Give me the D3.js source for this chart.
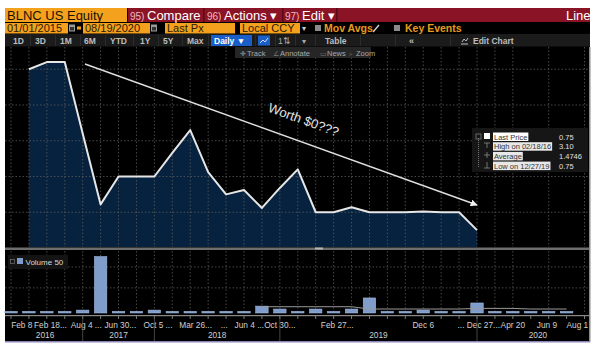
<!DOCTYPE html>
<html><head><meta charset="utf-8">
<script src="https://cdn.jsdelivr.net/npm/d3@7"></script>
<style>
body{margin:0;background:#fff;}
svg{display:block;font-family:"Liberation Sans",Arial,sans-serif;}
</style>
</head><body>
<svg id="c" width="596" height="345"></svg>
<script>
// ---------- DATA ----------
const priceSlots = d3.range(1, 27);
const prices = [3.00,3.10,3.10,2.10,1.11,1.50,1.50,1.50,1.83,2.15,1.56,1.25,1.31,1.06,1.34,1.60,1.00,1.00,1.07,1.00,1.00,1.00,1.01,1.00,1.00,0.75];
const volSlots = d3.range(0, 32);
const volumes = [8,8,8,8,14,270,8,8,14,8,8,8,8,8,33,19,8,19,8,19,72,8,8,14,8,8,48,8,8,8,8,8];
const maSlots = d3.range(14, 32);
const volMA = [30,30,30,30,30,30,19,19,19,19,19,19,22,22,22,19,19,19];
const priceGrid = [1.0,1.5,2.0,2.5,3.0];
const volGrid = [120,220];
const xTickLabels = ["Feb 8","Feb 18...","Aug 4 ...","Jun 30...","Oct 5 ...","Mar 26...","...","Jun 4 ...","Oct 30...","Feb 27...","Dec 6","... Dec 27...","Apr 20","Jun 9","Aug 1"];
const xTickSlots = [0.6,2.2,4.2,6.1,8.2,10.3,11.9,13.3,15.0,18.2,23.0,26.1,28.0,29.9,31.6];
const yearLabels = ["2016","2017","2018","2019","2020"];
const yearSlots = [1.9,6.0,11.5,20.5,29.4];
const yearBreaks = [4,8,15,26];
const gridSlots = d3.range(0,33).filter(s => s!==29 && s!==31);
const legendLabels = ["Last Price","High on 02/18/16","Average","Low on 12/27/19"];
const legendValues = ["0.75","3.10","1.4746","0.75"];
const ranges = ["1D","3D","1M","6M","YTD","1Y","5Y","Max"];

// ---------- SCALES ----------
const svg = d3.select("#c");
const x = d3.scaleLinear().domain([0,26]).range([11,477]);
const y = d3.scaleLinear().domain([0.5,3.311]).range([248,47]);
const yv = d3.scaleLinear().domain([0,270]).range([313,256.5]);

// ---------- BACKGROUND ----------
svg.append("rect").attr("x",5).attr("y",8).attr("width",585).attr("height",334).attr("fill","#000");

// Row 1
svg.append("rect").attr("x",5).attr("y",8).attr("width",122).attr("height",14).attr("fill","#f4a11e");
svg.append("text").attr("x",7).attr("y",20).attr("font-size",13).attr("fill","#1a1200").text("BLNC US Equity");
svg.append("rect").attr("x",128).attr("y",8).attr("width",462).attr("height",14).attr("fill","#8a1426");
[203,282,336].forEach(sx => svg.append("rect").attr("x",sx).attr("y",8).attr("width",1.5).attr("height",14).attr("fill","#5a0a16"));
const r1 = [{n:"95)",t:"Compare",x:130},{n:"96)",t:"Actions \u25BE",x:207},{n:"97)",t:"Edit \u25BE",x:285}];
r1.forEach(d=>{
  svg.append("text").attr("x",d.x).attr("y",19.5).attr("font-size",10).attr("fill","#f2b8be").text(d.n);
  svg.append("text").attr("x",d.x+17).attr("y",20).attr("font-size",13).attr("fill","#fff").text(d.t);
});
svg.append("text").attr("x",566).attr("y",20).attr("font-size",13).attr("fill","#fff").text("Line");

// Row 2
const boxes2 = [{x:5,w:63,t:"01/01/2015"},{x:83,w:67,t:"08/19/2020"},{x:165,w:70,t:"Last Px"},{x:240,w:60,t:"Local CCY"}];
boxes2.forEach(b=>{
  svg.append("rect").attr("x",b.x).attr("y",23).attr("width",b.w).attr("height",10.5).attr("fill","#f4a11e");
  svg.append("text").attr("x",b.x+2).attr("y",32.3).attr("font-size",11).attr("fill","#2a1a00").text(b.t);
});
[69,151].forEach(ix=>{
  svg.append("rect").attr("x",ix).attr("y",24.5).attr("width",6).attr("height",7).attr("fill","#9a9a9a");
  svg.append("rect").attr("x",ix+1).attr("y",27).attr("width",4).attr("height",3.5).attr("fill","#333");
});
svg.append("rect").attr("x",77).attr("y",26.5).attr("width",4).attr("height",3).attr("fill","#f4a11e");
svg.append("text").attr("x",302).attr("y",31).attr("font-size",8).attr("fill","#ccc").text("\u25BE");
[315,394].forEach(cx=>svg.append("rect").attr("x",cx).attr("y",25).attr("width",6).attr("height",6).attr("fill","#8a8a8a"));
svg.append("text").attr("x",324).attr("y",32).attr("font-size",10.5).attr("font-weight","bold").attr("fill","#e89a1c").text("Mov Avgs");
svg.append("line").attr("x1",373).attr("y1",32).attr("x2",379).attr("y2",25).attr("stroke","#ccc").attr("stroke-width",1.5);
svg.append("text").attr("x",405).attr("y",32).attr("font-size",10.5).attr("font-weight","bold").attr("fill","#e89a1c").text("Key Events");

// Row 3
svg.append("rect").attr("x",5).attr("y",34).attr("width",585).attr("height",12.5).attr("fill","#1b1b1b");
const rangeX = [13,35,60,84,110,140,163,187];
ranges.forEach((t,i)=>svg.append("text").attr("x",rangeX[i]).attr("y",44).attr("font-size",8.5).attr("font-weight","bold").attr("fill","#bcbcbc").text(t));
svg.append("rect").attr("x",211).attr("y",35).attr("width",41).attr("height",11).attr("fill","#1a5fc8");
svg.append("text").attr("x",214).attr("y",44).attr("font-size",8.5).attr("font-weight","bold").attr("fill","#fff").text("Daily \u25BC");
svg.append("rect").attr("x",258).attr("y",35.5).attr("width",12).attr("height",10).attr("fill","#1a5fc8");
svg.append("path").attr("d","M260,43 L263,40 L265,42 L268,38").attr("stroke","#cfe0ff").attr("fill","none");
svg.append("text").attr("x",278).attr("y",44).attr("font-size",8.5).attr("fill","#aaa").text("1\u21C5");
svg.append("text").attr("x",302).attr("y",44).attr("font-size",8).attr("fill","#aaa").text("\u25BE");
svg.append("text").attr("x",325).attr("y",44).attr("font-size",8.5).attr("font-weight","bold").attr("fill","#bcbcbc").text("Table");
svg.append("text").attr("x",409).attr("y",44).attr("font-size",9).attr("font-weight","bold").attr("fill","#bcbcbc").text("\u00AB");
svg.append("path").attr("d","M461,44 L468,44 M462,42 L464,39 L466,41 L468,38").attr("stroke","#bcbcbc").attr("fill","none");
svg.append("text").attr("x",473).attr("y",44).attr("font-size",8.5).attr("font-weight","bold").attr("fill","#bcbcbc").text("Edit Chart");
[30,55,80,105,133,158,182,208,255,275,295,315,360,395,450].forEach(sx=>svg.append("rect").attr("x",sx).attr("y",35).attr("width",1).attr("height",11).attr("fill","#2c2c2c"));

// ---------- PRICE AREA ----------
const pdata = priceSlots.map((s,i)=>({s, p:prices[i]}));
svg.append("path").datum(pdata)
  .attr("d", d3.area().x(d=>x(d.s)).y0(247).y1(d=>y(d.p)))
  .attr("fill","#06223f");

// gridlines (main panel)
const grid = svg.append("g").attr("stroke","#5a5a5a").attr("stroke-width",0.8).attr("stroke-dasharray","1.5,2");
priceGrid.forEach(v=>grid.append("line").attr("x1",5).attr("x2",590).attr("y1",y(v)).attr("y2",y(v)));
gridSlots.forEach(s=>grid.append("line").attr("x1",x(s)).attr("x2",x(s)).attr("y1",47).attr("y2",247));
// volume panel gridlines
volGrid.forEach(v=>grid.append("line").attr("x1",5).attr("x2",590).attr("y1",yv(v)).attr("y2",yv(v)));
gridSlots.forEach(s=>grid.append("line").attr("x1",x(s)).attr("x2",x(s)).attr("y1",251).attr("y2",314));

svg.append("path").datum(pdata)
  .attr("d", d3.line().x(d=>x(d.s)).y(d=>y(d.p)))
  .attr("fill","none").attr("stroke","#e6e6e6").attr("stroke-width",2).attr("stroke-linejoin","round");

// separator between panels
svg.append("rect").attr("x",5).attr("y",247.5).attr("width",585).attr("height",2.5).attr("fill","#6e6e6e");
svg.append("rect").attr("x",315).attr("y",247.5).attr("width",8).attr("height",2).attr("fill","#b5b5b5");
// right border
svg.append("rect").attr("x",589).attr("y",47).attr("width",1.5).attr("height",295).attr("fill","#8a8a8a");

// ---------- TRACK TOOLBAR ----------
svg.append("rect").attr("x",235).attr("y",47).attr("width",136).attr("height",11).attr("fill","#262626");
const tb = [{i:"\u271A",t:"Track",x:240},{i:"\u2220",t:"Annotate",x:273},{i:"\u25AD",t:"News",x:320},{i:"\u2315",t:"Zoom",x:349}];
tb.forEach(d=>{
  svg.append("text").attr("x",d.x).attr("y",55.5).attr("font-size",7).attr("fill","#777").text(d.i);
  svg.append("text").attr("x",d.x+7).attr("y",55.5).attr("font-size",7.5).attr("fill","#a8a8a8").text(d.t);
});

// ---------- ANNOTATION ----------
svg.append("defs").append("marker").attr("id","ah").attr("viewBox","0 0 10 10").attr("refX",9).attr("refY",5)
  .attr("markerWidth",5).attr("markerHeight",5).attr("orient","auto")
  .append("path").attr("d","M0,0 L10,5 L0,10 z").attr("fill","#f0f0f0");
svg.append("line").attr("x1",85).attr("y1",64).attr("x2",477).attr("y2",205)
  .attr("stroke","#e0e0e0").attr("stroke-width",1.4).attr("marker-end","url(#ah)");
svg.append("text").attr("transform","translate(302,124) rotate(20)").attr("text-anchor","middle")
  .attr("font-size",13).attr("fill","#e4e4e4").text("Worth $0???");

// ---------- LEGEND ----------
const lg = svg.append("g");
lg.append("rect").attr("x",472).attr("y",128).attr("width",116).attr("height",44).attr("fill","#161616");
lg.append("line").attr("x1",478.5).attr("x2",478.5).attr("y1",138).attr("y2",168).attr("stroke","#777").attr("stroke-dasharray","1,1");
lg.append("rect").attr("x",476).attr("y",134).attr("width",5).attr("height",5).attr("fill","none").attr("stroke","#888").attr("stroke-width",0.7);
lg.append("rect").attr("x",484).attr("y",133).attr("width",6).attr("height",6).attr("fill","#fff");
legendLabels.forEach((t,i)=>{
  const yy = 139.5 + i*9.7;
  const tx = lg.append("text").attr("x",494).attr("y",yy).attr("font-size",7.5).attr("fill","#333").text(t);
  const w = tx.node().getComputedTextLength();
  lg.insert("rect", "text").attr("x",493).attr("y",yy-7).attr("width",w+2).attr("height",8.5).attr("fill",i===0?"#ffffff":"#e8e8e8");
  lg.append("text").attr("x",559).attr("y",yy).attr("font-size",7.5).attr("fill","#e0e0e0").text(legendValues[i]);
});
lg.append("path").attr("d","M484,143 L490,143 M487,143 L487,148").attr("stroke","#888").attr("stroke-width",0.8);
lg.append("path").attr("d","M484,155 L490,155 M487,152 L487,158").attr("stroke","#888").attr("stroke-width",0.8);
lg.append("path").attr("d","M484,168 L490,168 M487,162 L487,168").attr("stroke","#888").attr("stroke-width",0.8);

// ---------- VOLUME ----------
const bw = 12.5;
svg.append("g").selectAll("rect").data(volSlots.map((s,i)=>({s,v:volumes[i]}))).join("rect")
  .attr("x",d=>x(d.s)-bw/2).attr("width",bw)
  .attr("y",d=>yv(d.v)).attr("height",d=>yv(0)-yv(d.v))
  .attr("fill","#7f9ccb").attr("stroke","#a9c0e4").attr("stroke-width",0.5);
svg.append("path").datum(maSlots.map((s,i)=>({s,v:volMA[i]})))
  .attr("d",d3.line().x(d=>x(d.s)).y(d=>yv(d.v)))
  .attr("fill","none").attr("stroke","#9a9a9a").attr("stroke-width",1);
svg.append("rect").attr("x",8).attr("y",255).attr("width",60).attr("height",14).attr("fill","#141414");
svg.append("rect").attr("x",10.5).attr("y",259.5).attr("width",4).attr("height",4).attr("fill","none").attr("stroke","#777").attr("stroke-width",0.7);
svg.append("rect").attr("x",17).attr("y",258).attr("width",6).attr("height",6).attr("fill","#7f9ccb");
svg.append("text").attr("x",25.5).attr("y",264.5).attr("font-size",8).attr("fill","#d8d8d8").text("Volume 50");

// ---------- X AXIS ----------
svg.append("rect").attr("x",5).attr("y",315).attr("width",585).attr("height",1.2).attr("fill","#8a8a8a");
const ax = svg.append("g");
d3.range(0,33).forEach(s=>ax.append("line").attr("x1",x(s)).attr("x2",x(s)).attr("y1",316).attr("y2",319).attr("stroke","#9a9a9a").attr("stroke-width",0.8));
xTickLabels.forEach((t,i)=>ax.append("text").attr("x",x(xTickSlots[i])).attr("y",328).attr("text-anchor","middle")
  .attr("font-size",8.3).attr("fill","#d0d0d0").text(t));
yearLabels.forEach((t,i)=>ax.append("text").attr("x",x(yearSlots[i])).attr("y",338).attr("text-anchor","middle")
  .attr("font-size",8.3).attr("fill","#d0d0d0").text(t));
yearBreaks.forEach(s=>ax.append("line").attr("x1",x(s)).attr("x2",x(s)).attr("y1",317).attr("y2",341).attr("stroke","#555").attr("stroke-width",0.8));
svg.append("rect").attr("x",5).attr("y",341).attr("width",585).attr("height",1.5).attr("fill","#8c86b8");
</script>
</body></html>
